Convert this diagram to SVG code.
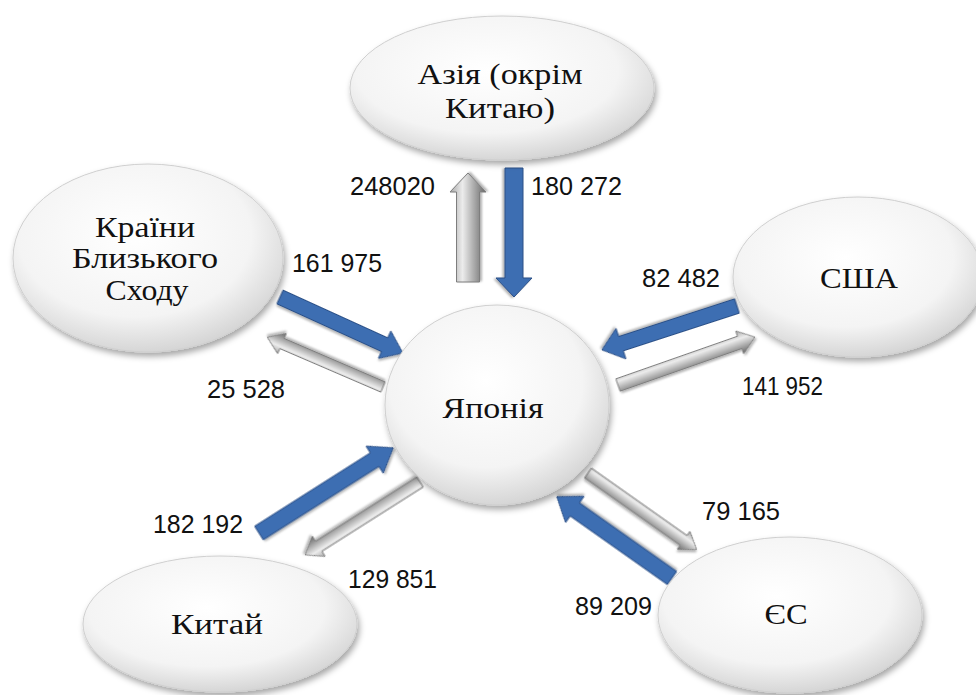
<svg xmlns="http://www.w3.org/2000/svg" width="976" height="695" viewBox="0 0 976 695">
<defs>
<radialGradient id="nodeFill" cx="0.45" cy="0.38" r="0.72">
<stop offset="0" stop-color="#ffffff"/>
<stop offset="0.6" stop-color="#f4f4f4"/>
<stop offset="1" stop-color="#c6c6c6"/>
</radialGradient>
<linearGradient id="greyFill" x1="0" y1="0" x2="0" y2="1">
<stop offset="0" stop-color="#a8a8a8"/>
<stop offset="0.35" stop-color="#ececec"/>
<stop offset="1" stop-color="#666666"/>
</linearGradient>
<filter id="shadow" x="-20%" y="-20%" width="140%" height="150%">
<feDropShadow dx="2" dy="4" stdDeviation="3" flood-color="#000" flood-opacity="0.35"/>
</filter>
<filter id="ashadow" x="-20%" y="-50%" width="140%" height="200%">
<feDropShadow dx="1" dy="2" stdDeviation="1.2" flood-color="#000" flood-opacity="0.3"/>
</filter>
</defs>
<style>
.node{fill:url(#nodeFill);stroke:#cfcfcf;stroke-width:1;filter:url(#shadow);}
.lbl{font-family:"Liberation Serif","Times New Roman",serif;font-size:29px;fill:#111;text-anchor:middle;}
.num{font-family:"Liberation Sans Narrow","Liberation Sans",Arial,sans-serif;font-size:25px;fill:#111;}
.blue{fill:#3e6eb2;stroke:#2b4f86;stroke-width:1;filter:url(#ashadow);}
.grey{fill:url(#greyFill);stroke:#7e7e7e;stroke-width:1;filter:url(#ashadow);}
</style>
<rect width="976" height="695" fill="#ffffff"/>
<g id="connectors">
<polygon class="grey" transform="translate(468,282) rotate(-90)" points="0,-11.5 90,-11.5 90,-18 109,0 90,18 90,11.5 0,11.5"/>
<polygon class="blue" transform="translate(514,168) rotate(90)" points="0,-9 110,-9 110,-18 129,0 110,18 110,9 0,9"/>
<polygon class="blue" transform="translate(280,297) rotate(24.5)" points="0,-7.5 115,-7.5 115,-15 135,0 115,15 115,7.5 0,7.5"/>
<polygon class="grey" transform="translate(383,387) rotate(203.3)" points="0,-5.5 110,-5.5 110,-11 126,0 110,11 110,5.5 0,5.5"/>
<polygon class="blue" transform="translate(737,306) rotate(162)" points="0,-7.5 122,-7.5 122,-16 142,0 122,16 122,7.5 0,7.5"/>
<polygon class="grey" transform="translate(618,385) rotate(-19.3)" points="0,-6.5 129,-6.5 129,-12 145,0 129,12 129,6.5 0,6.5"/>
<polygon class="blue" transform="translate(259,533) rotate(-32.4)" points="0,-8 137,-8 137,-16 159,0 137,16 137,8 0,8"/>
<polygon class="grey" transform="translate(420,482) rotate(147.6)" points="0,-6 120,-6 120,-12 136,0 120,12 120,6 0,6"/>
<polygon class="grey" transform="translate(588,473) rotate(35.2)" points="0,-6 117,-6 117,-11 133,0 117,11 117,6 0,6"/>
<polygon class="blue" transform="translate(672,578) rotate(215.2)" points="0,-8 119,-8 119,-16 141,0 119,16 119,8 0,8"/>
</g>
<g id="labels">
<text class="num" x="350" y="195" textLength="85" lengthAdjust="spacingAndGlyphs">248020</text>
<text class="num" x="531" y="195" textLength="91" lengthAdjust="spacingAndGlyphs">180 272</text>
<text class="num" x="292" y="272" textLength="90" lengthAdjust="spacingAndGlyphs">161 975</text>
<text class="num" x="207" y="398" textLength="78" lengthAdjust="spacingAndGlyphs">25 528</text>
<text class="num" x="642" y="287" textLength="78" lengthAdjust="spacingAndGlyphs">82 482</text>
<text class="num" x="742" y="395" textLength="81" lengthAdjust="spacingAndGlyphs">141 952</text>
<text class="num" x="153" y="533" textLength="90" lengthAdjust="spacingAndGlyphs">182 192</text>
<text class="num" x="348" y="588" textLength="89" lengthAdjust="spacingAndGlyphs">129 851</text>
<text class="num" x="702" y="520" textLength="78" lengthAdjust="spacingAndGlyphs">79 165</text>
<text class="num" x="575" y="615" textLength="77" lengthAdjust="spacingAndGlyphs">89 209</text>
</g>
<g id="node-asia">
<ellipse class="node" cx="502" cy="88" rx="152" ry="72"/>
<text class="lbl" x="500" y="84" textLength="165" lengthAdjust="spacingAndGlyphs">Азія (окрім</text>
<text class="lbl" x="500" y="118" textLength="110" lengthAdjust="spacingAndGlyphs">Китаю)</text>
</g>
<g id="node-mideast">
<ellipse class="node" cx="148" cy="258" rx="135" ry="94"/>
<text class="lbl" x="145" y="237" textLength="100" lengthAdjust="spacingAndGlyphs">Країни</text>
<text class="lbl" x="145" y="268" textLength="146" lengthAdjust="spacingAndGlyphs">Близького</text>
<text class="lbl" x="147" y="300" textLength="83" lengthAdjust="spacingAndGlyphs">Сходу</text>
</g>
<g id="node-usa">
<ellipse class="node" cx="858" cy="277" rx="125" ry="80"/>
<text class="lbl" x="859" y="288" textLength="78" lengthAdjust="spacingAndGlyphs">США</text>
</g>
<g id="node-japan">
<ellipse class="node" cx="497" cy="405" rx="112" ry="100"/>
<text class="lbl" x="493" y="418" textLength="101" lengthAdjust="spacingAndGlyphs">Японія</text>
</g>
<g id="node-china">
<ellipse class="node" cx="220" cy="624" rx="137" ry="68"/>
<text class="lbl" x="217" y="634" textLength="92" lengthAdjust="spacingAndGlyphs">Китай</text>
</g>
<g id="node-eu">
<ellipse class="node" cx="790" cy="615" rx="132" ry="78"/>
<text class="lbl" x="786" y="624" textLength="43" lengthAdjust="spacingAndGlyphs">ЄС</text>
</g>
</svg>
